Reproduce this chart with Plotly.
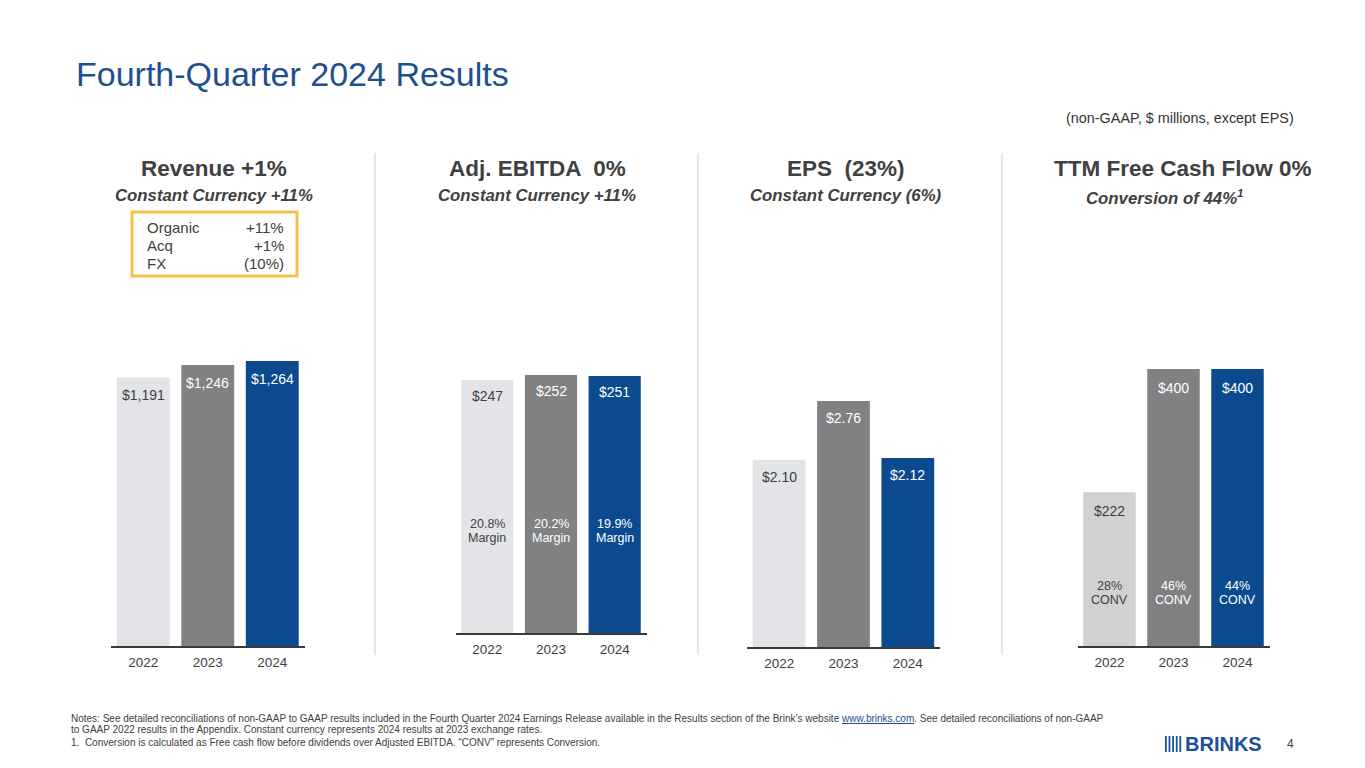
import plotly.graph_objects as go

W, H = 1365, 768
OFF = 8  # page body margin in the browser

years = ["2022", "2023", "2024"]
revenue = [1191, 1246, 1264]
revenue_labels = ["$1,191", "$1,246", "$1,264"]
ebitda = [247, 252, 251]
ebitda_labels = ["$247", "$252", "$251"]
ebitda_margin = ["20.8%", "20.2%", "19.9%"]
eps = [2.10, 2.76, 2.12]
eps_labels = ["$2.10", "$2.76", "$2.12"]
fcf = [222, 400, 400]
fcf_labels = ["$222", "$400", "$400"]
fcf_conv = ["28%", "46%", "44%"]

C_LIGHT = "#e2e4e8"
C_LIGHT2 = "#d2d1d1"
C_GRAY = "#7f8183"
C_BLUE = "#0b4a8f"
TXT = "#404040"
FONT = "Liberation Sans, Arial, sans-serif"


def px(x):
    return (x - OFF) / W


def py(y):
    return 1 - (y - OFF) / H


# panel geometry (pixels): x-left, x-right, baseline, top of tallest bar
panels = [
    dict(x0=111, x1=304.5, base=646, top=361, vals=revenue, labs=revenue_labels,
         colors=[C_LIGHT, C_GRAY, C_BLUE], shift=-18),
    dict(x0=455.5, x1=646.5, base=633, top=375, vals=ebitda, labs=ebitda_labels,
         colors=[C_LIGHT, C_GRAY, C_BLUE], shift=-16),
    dict(x0=747, x1=940, base=647, top=401, vals=eps, labs=eps_labels,
         colors=[C_LIGHT, C_GRAY, C_BLUE], shift=-17),
    dict(x0=1077.5, x1=1269.5, base=646, top=369, vals=fcf, labs=fcf_labels,
         colors=[C_LIGHT2, C_GRAY, C_BLUE], shift=-19),
]
label_colors = [TXT, "white", "white"]

fig = go.Figure()
annotations = []
shapes = []

for i, p in enumerate(panels, start=1):
    xa = "x" if i == 1 else f"x{i}"
    ya = "y" if i == 1 else f"y{i}"
    fig.add_trace(go.Bar(
        x=years, y=p["vals"], marker=dict(color=p["colors"], line=dict(width=0)),
        width=0.82, xaxis=xa, yaxis=ya, showlegend=False, hoverinfo="skip"))
    xkey = "xaxis" if i == 1 else f"xaxis{i}"
    ykey = "yaxis" if i == 1 else f"yaxis{i}"
    fig.update_layout(**{
        xkey: dict(domain=[px(p["x0"]), px(p["x1"])], anchor=ya, type="category",
                   range=[-0.5, 2.5], showline=True, linecolor="#3a3a3a", linewidth=1.5,
                   ticks="", showgrid=False, fixedrange=True, ticklabelstandoff=3,
                   tickfont=dict(family=FONT, size=13.5, color=TXT)),
        ykey: dict(domain=[py(p["base"]), py(p["top"])], anchor=xa,
                   range=[0, max(p["vals"])], showticklabels=False, ticks="",
                   showline=False, showgrid=False, zeroline=False, fixedrange=True),
    })
    for j, (v, lab) in enumerate(zip(p["vals"], p["labs"])):
        annotations.append(dict(
            x=j, y=v, xref=xa, yref=ya, text=lab, showarrow=False,
            yshift=p["shift"], font=dict(family=FONT, size=14, color=label_colors[j])))

# margin labels inside EBITDA bars
for j, m in enumerate(ebitda_margin):
    for t, yy in ((m, 533), ("Margin", 547)):
        annotations.append(dict(x=j, xref="x2", y=py(yy), yref="paper", text=t,
                                showarrow=False, font=dict(family=FONT, size=12.5,
                                                           color=label_colors[j])))
# conversion labels inside FCF bars
for j, c in enumerate(fcf_conv):
    for t, yy in ((c, 595), ("CONV", 609)):
        annotations.append(dict(x=j, xref="x4", y=py(yy), yref="paper", text=t,
                                showarrow=False, font=dict(family=FONT, size=12.5,
                                                           color=label_colors[j])))


def txt(x, y, text, size, color=TXT, xanchor="center", bold=False, italic=False):
    if bold:
        text = f"<b>{text}</b>"
    if italic:
        text = f"<i>{text}</i>"
    annotations.append(dict(x=px(x), y=py(y), xref="paper", yref="paper", text=text,
                            showarrow=False, xanchor=xanchor, yanchor="middle",
                            font=dict(family=FONT, size=size, color=color)))


# title
txt(74, 74, "Fourth-Quarter 2024 Results", 34, color="#1e4f8f", xanchor="left")
txt(1296, 118, "(non-GAAP, $ millions, except EPS)", 14.4, color="#333333", xanchor="right")

# panel headings
heads = [
    (214, "Revenue +1%", "Constant Currency +11%"),
    (537, "Adj. EBITDA  0%", "Constant Currency +11%"),
    (846, "EPS  (23%)", "Constant Currency (6%)"),
    (1183, "TTM Free Cash Flow 0%", None),
]
for x, h1, h2 in heads:
    txt(x, 168, h1, 22.5, bold=True)
    if h2:
        txt(x, 196, h2, 16.8, bold=True, italic=True)
annotations.append(dict(x=px(1165), y=py(197), xref="paper", yref="paper",
                        text="<b><i>Conversion of 44%<sup>1</sup></i></b>",
                        showarrow=False, xanchor="center", yanchor="middle",
                        font=dict(family=FONT, size=16.8, color=TXT)))

# revenue bridge box
shapes.append(dict(type="rect", xref="paper", yref="paper", x0=px(132), x1=px(297),
                   y0=py(276), y1=py(212), line=dict(color="#f3c24a", width=3)))
for lab, val, yy in (("Organic", "+11%", 228), ("Acq", "+1%", 246), ("FX", "(10%)", 264)):
    txt(145, yy, lab, 15, xanchor="left")
    txt(286, yy, val, 15, xanchor="right")

# vertical dividers
for x in (375, 698, 1002):
    shapes.append(dict(type="line", xref="paper", yref="paper", x0=px(x), x1=px(x),
                       y0=py(153), y1=py(655), line=dict(color="#c6dcef", width=1.2)))

# notes
notes = [
    (718, "Notes: See detailed reconciliations of non-GAAP to GAAP results included in the Fourth Quarter 2024 Earnings Release available in the Results section of the Brink\u2019s website "
          "<span style='color:#1f4e8c'><u>www.brinks.com</u></span>. See detailed reconciliations of non-GAAP"),
    (729, "to GAAP 2022 results in the Appendix. Constant currency represents 2024 results at 2023 exchange rates."),
    (742, "1.  Conversion is calculated as Free cash flow before dividends over Adjusted EBITDA. \u201cCONV\u201d represents Conversion."),
]
for yy, t in notes:
    txt(69, yy, t, 10, color=TXT, xanchor="left")

# logo
for k in range(5):
    x0 = 1165 + k * 3.6
    shapes.append(dict(type="rect", xref="paper", yref="paper", x0=px(x0), x1=px(x0 + 1.8),
                       y0=py(752), y1=py(736), line=dict(width=0), fillcolor="#1b4e9b"))
txt(1183, 744, "BRINKS", 20, color="#1b4e9b", xanchor="left", bold=True)
txt(1290, 744, "4", 12, color=TXT)

fig.update_layout(width=W, height=H, margin=dict(l=0, r=0, t=0, b=0),
                  paper_bgcolor="white", plot_bgcolor="white", bargap=0.18,
                  annotations=annotations, shapes=shapes)

fig.write_html("out.html", config={"displayModeBar": False})
